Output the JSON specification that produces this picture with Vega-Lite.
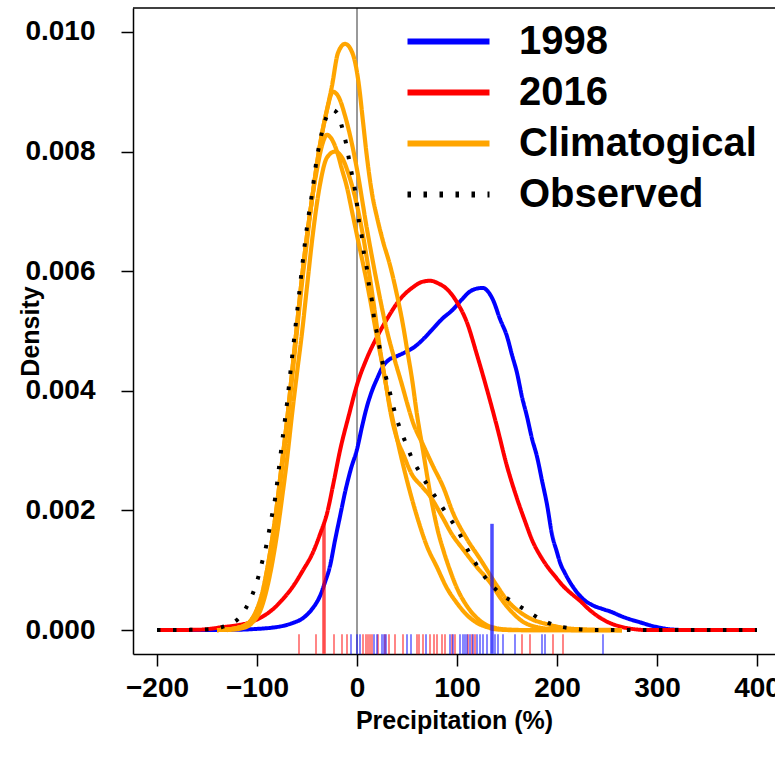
{
  "$schema": "https://vega.github.io/schema/vega-lite/v6.json",
  "autosize": {"type": "none"},
  "width": 642,
  "height": 646,
  "padding": {"left": 133, "top": 8, "right": 0, "bottom": 103},
  "background": "white",
  "config": {
    "view": {"stroke": null},
    "font": "Liberation Sans",
    "axis": {
      "labelFont": "Liberation Sans", "labelFontWeight": "bold", "labelFontSize": 28, "labelColor": "black",
      "titleFont": "Liberation Sans", "titleFontWeight": "bold", "titleFontSize": 25, "titleColor": "black",
      "tickColor": "black", "tickWidth": 1.5, "tickSize": 12,
      "domainColor": "black", "domainWidth": 1.5, "grid": false, "labelFlush": false
    },
    "legend": {
      "symbolType": "M-2,0H2", "symbolSize": 1681, "symbolStrokeWidth": 6,
      "labelFont": "Liberation Sans", "labelFontSize": 40, "labelFontWeight": "bold", "labelColor": "black",
      "labelOffset": 47, "rowPadding": 7, "labelLimit": 500
    }
  },
  "datasets": {
    "curves": [
      {"s":"1998","c":"1998","x":-200,"d":0},{"s":"1998","c":"1998","x":-150,"d":0},{"s":"1998","c":"1998","x":-120,"d":0.000005},{"s":"1998","c":"1998","x":-100,"d":0.00002},{"s":"1998","c":"1998","x":-85,"d":0.00004},{"s":"1998","c":"1998","x":-74,"d":0.00007},{"s":"1998","c":"1998","x":-64,"d":0.00012},{"s":"1998","c":"1998","x":-54,"d":0.0002},{"s":"1998","c":"1998","x":-45,"d":0.00035},{"s":"1998","c":"1998","x":-37,"d":0.00057},{"s":"1998","c":"1998","x":-32,"d":0.0008},{"s":"1998","c":"1998","x":-27,"d":0.00107},{"s":"1998","c":"1998","x":-22,"d":0.0015},{"s":"1998","c":"1998","x":-17,"d":0.0019},{"s":"1998","c":"1998","x":-12,"d":0.0023},{"s":"1998","c":"1998","x":-6,"d":0.0027},{"s":"1998","c":"1998","x":0,"d":0.00302},{"s":"1998","c":"1998","x":5,"d":0.0034},{"s":"1998","c":"1998","x":10,"d":0.00374},{"s":"1998","c":"1998","x":15,"d":0.004},{"s":"1998","c":"1998","x":20,"d":0.0042},{"s":"1998","c":"1998","x":26,"d":0.00441},{"s":"1998","c":"1998","x":32,"d":0.00452},{"s":"1998","c":"1998","x":40,"d":0.00458},{"s":"1998","c":"1998","x":50,"d":0.00466},{"s":"1998","c":"1998","x":58,"d":0.00474},{"s":"1998","c":"1998","x":66,"d":0.00486},{"s":"1998","c":"1998","x":75,"d":0.00502},{"s":"1998","c":"1998","x":85,"d":0.0052},{"s":"1998","c":"1998","x":96,"d":0.00536},{"s":"1998","c":"1998","x":105,"d":0.00553},{"s":"1998","c":"1998","x":113,"d":0.00566},{"s":"1998","c":"1998","x":120,"d":0.00571},{"s":"1998","c":"1998","x":126,"d":0.00572},{"s":"1998","c":"1998","x":131,"d":0.00566},{"s":"1998","c":"1998","x":136,"d":0.00552},{"s":"1998","c":"1998","x":143,"d":0.0052},{"s":"1998","c":"1998","x":150,"d":0.00491},{"s":"1998","c":"1998","x":155,"d":0.0046},{"s":"1998","c":"1998","x":160,"d":0.0043},{"s":"1998","c":"1998","x":165,"d":0.0039},{"s":"1998","c":"1998","x":170,"d":0.00357},{"s":"1998","c":"1998","x":175,"d":0.0032},{"s":"1998","c":"1998","x":180,"d":0.0029},{"s":"1998","c":"1998","x":185,"d":0.0025},{"s":"1998","c":"1998","x":190,"d":0.0021},{"s":"1998","c":"1998","x":195,"d":0.0016},{"s":"1998","c":"1998","x":200,"d":0.0013},{"s":"1998","c":"1998","x":203,"d":0.00113},{"s":"1998","c":"1998","x":208,"d":0.00095},{"s":"1998","c":"1998","x":213,"d":0.0008},{"s":"1998","c":"1998","x":220,"d":0.00063},{"s":"1998","c":"1998","x":226,"d":0.00052},{"s":"1998","c":"1998","x":235,"d":0.00042},{"s":"1998","c":"1998","x":246,"d":0.00035},{"s":"1998","c":"1998","x":255,"d":0.0003},{"s":"1998","c":"1998","x":263,"d":0.00024},{"s":"1998","c":"1998","x":273,"d":0.00018},{"s":"1998","c":"1998","x":283,"d":0.00013},{"s":"1998","c":"1998","x":293,"d":0.00008},{"s":"1998","c":"1998","x":303,"d":0.00004},{"s":"1998","c":"1998","x":315,"d":0.00001},{"s":"1998","c":"1998","x":330,"d":0},{"s":"1998","c":"1998","x":400,"d":0},

      {"s":"2016","c":"2016","x":-200,"d":0},{"s":"2016","c":"2016","x":-160,"d":0.000005},{"s":"2016","c":"2016","x":-134,"d":0.00005},{"s":"2016","c":"2016","x":-120,"d":0.00008},{"s":"2016","c":"2016","x":-107,"d":0.00013},{"s":"2016","c":"2016","x":-95,"d":0.00022},{"s":"2016","c":"2016","x":-84,"d":0.00035},{"s":"2016","c":"2016","x":-74,"d":0.00052},{"s":"2016","c":"2016","x":-64,"d":0.00073},{"s":"2016","c":"2016","x":-54,"d":0.001},{"s":"2016","c":"2016","x":-44,"d":0.0013},{"s":"2016","c":"2016","x":-37,"d":0.0016},{"s":"2016","c":"2016","x":-30,"d":0.00195},{"s":"2016","c":"2016","x":-23,"d":0.0025},{"s":"2016","c":"2016","x":-17,"d":0.003},{"s":"2016","c":"2016","x":-8,"d":0.0036},{"s":"2016","c":"2016","x":0,"d":0.0041},{"s":"2016","c":"2016","x":10,"d":0.00455},{"s":"2016","c":"2016","x":20,"d":0.0049},{"s":"2016","c":"2016","x":30,"d":0.0052},{"s":"2016","c":"2016","x":43,"d":0.00553},{"s":"2016","c":"2016","x":55,"d":0.00572},{"s":"2016","c":"2016","x":65,"d":0.00582},{"s":"2016","c":"2016","x":73,"d":0.00584},{"s":"2016","c":"2016","x":82,"d":0.00579},{"s":"2016","c":"2016","x":90,"d":0.0057},{"s":"2016","c":"2016","x":100,"d":0.00548},{"s":"2016","c":"2016","x":110,"d":0.00514},{"s":"2016","c":"2016","x":120,"d":0.0046},{"s":"2016","c":"2016","x":130,"d":0.00402},{"s":"2016","c":"2016","x":140,"d":0.0034},{"s":"2016","c":"2016","x":150,"d":0.00274},{"s":"2016","c":"2016","x":160,"d":0.0022},{"s":"2016","c":"2016","x":168,"d":0.00182},{"s":"2016","c":"2016","x":176,"d":0.00147},{"s":"2016","c":"2016","x":183,"d":0.00125},{"s":"2016","c":"2016","x":190,"d":0.00107},{"s":"2016","c":"2016","x":198,"d":0.0009},{"s":"2016","c":"2016","x":206,"d":0.00074},{"s":"2016","c":"2016","x":215,"d":0.0006},{"s":"2016","c":"2016","x":223,"d":0.00049},{"s":"2016","c":"2016","x":231,"d":0.00036},{"s":"2016","c":"2016","x":240,"d":0.00024},{"s":"2016","c":"2016","x":250,"d":0.00014},{"s":"2016","c":"2016","x":263,"d":0.00006},{"s":"2016","c":"2016","x":275,"d":0.00002},{"s":"2016","c":"2016","x":290,"d":0},{"s":"2016","c":"2016","x":400,"d":0},

      {"s":"Climatogical","c":"A","x":-140,"d":0},{"s":"Climatogical","c":"A","x":-125,"d":0.00002},{"s":"Climatogical","c":"A","x":-110,"d":0.0001},{"s":"Climatogical","c":"A","x":-100,"d":0.00035},{"s":"Climatogical","c":"A","x":-95,"d":0.0006},{"s":"Climatogical","c":"A","x":-90,"d":0.001},{"s":"Climatogical","c":"A","x":-85,"d":0.0015},{"s":"Climatogical","c":"A","x":-80,"d":0.0021},{"s":"Climatogical","c":"A","x":-75,"d":0.0028},{"s":"Climatogical","c":"A","x":-70,"d":0.0035},{"s":"Climatogical","c":"A","x":-65,"d":0.0043},{"s":"Climatogical","c":"A","x":-60,"d":0.0051},{"s":"Climatogical","c":"A","x":-55,"d":0.0059},{"s":"Climatogical","c":"A","x":-50,"d":0.0066},{"s":"Climatogical","c":"A","x":-45,"d":0.0072},{"s":"Climatogical","c":"A","x":-40,"d":0.0078},{"s":"Climatogical","c":"A","x":-35,"d":0.0083},{"s":"Climatogical","c":"A","x":-30,"d":0.0087},{"s":"Climatogical","c":"A","x":-25,"d":0.0091},{"s":"Climatogical","c":"A","x":-19,"d":0.00965},{"s":"Climatogical","c":"A","x":-12,"d":0.0098},{"s":"Climatogical","c":"A","x":-6,"d":0.0097},{"s":"Climatogical","c":"A","x":-2,"d":0.0095},{"s":"Climatogical","c":"A","x":2,"d":0.0091},{"s":"Climatogical","c":"A","x":6,"d":0.0085},{"s":"Climatogical","c":"A","x":10,"d":0.0079},{"s":"Climatogical","c":"A","x":15,"d":0.0073},{"s":"Climatogical","c":"A","x":20,"d":0.0069},{"s":"Climatogical","c":"A","x":26,"d":0.0065},{"s":"Climatogical","c":"A","x":33,"d":0.0061},{"s":"Climatogical","c":"A","x":40,"d":0.0056},{"s":"Climatogical","c":"A","x":46,"d":0.0051},{"s":"Climatogical","c":"A","x":50,"d":0.0047},{"s":"Climatogical","c":"A","x":55,"d":0.0042},{"s":"Climatogical","c":"A","x":60,"d":0.0036},{"s":"Climatogical","c":"A","x":66,"d":0.003},{"s":"Climatogical","c":"A","x":73,"d":0.0023},{"s":"Climatogical","c":"A","x":81,"d":0.00165},{"s":"Climatogical","c":"A","x":87,"d":0.0013},{"s":"Climatogical","c":"A","x":93,"d":0.001},{"s":"Climatogical","c":"A","x":100,"d":0.0007},{"s":"Climatogical","c":"A","x":110,"d":0.0004},{"s":"Climatogical","c":"A","x":120,"d":0.0002},{"s":"Climatogical","c":"A","x":133,"d":0.00006},{"s":"Climatogical","c":"A","x":150,"d":0.00001},{"s":"Climatogical","c":"A","x":170,"d":0},{"s":"Climatogical","c":"A","x":265,"d":0},

      {"s":"Climatogical","c":"B","x":-140,"d":0},{"s":"Climatogical","c":"B","x":-125,"d":0.00002},{"s":"Climatogical","c":"B","x":-110,"d":0.0001},{"s":"Climatogical","c":"B","x":-100,"d":0.00035},{"s":"Climatogical","c":"B","x":-95,"d":0.0006},{"s":"Climatogical","c":"B","x":-90,"d":0.001},{"s":"Climatogical","c":"B","x":-85,"d":0.0015},{"s":"Climatogical","c":"B","x":-80,"d":0.0021},{"s":"Climatogical","c":"B","x":-75,"d":0.0028},{"s":"Climatogical","c":"B","x":-70,"d":0.0035},{"s":"Climatogical","c":"B","x":-65,"d":0.0043},{"s":"Climatogical","c":"B","x":-60,"d":0.0051},{"s":"Climatogical","c":"B","x":-55,"d":0.0059},{"s":"Climatogical","c":"B","x":-50,"d":0.0066},{"s":"Climatogical","c":"B","x":-45,"d":0.0072},{"s":"Climatogical","c":"B","x":-40,"d":0.0078},{"s":"Climatogical","c":"B","x":-35,"d":0.0083},{"s":"Climatogical","c":"B","x":-30,"d":0.0087},{"s":"Climatogical","c":"B","x":-24,"d":0.009},{"s":"Climatogical","c":"B","x":-18,"d":0.0089},{"s":"Climatogical","c":"B","x":-12,"d":0.0086},{"s":"Climatogical","c":"B","x":-6,"d":0.0082},{"s":"Climatogical","c":"B","x":0,"d":0.0077},{"s":"Climatogical","c":"B","x":10,"d":0.0067},{"s":"Climatogical","c":"B","x":20,"d":0.0058},{"s":"Climatogical","c":"B","x":30,"d":0.005},{"s":"Climatogical","c":"B","x":38,"d":0.0045},{"s":"Climatogical","c":"B","x":45,"d":0.0041},{"s":"Climatogical","c":"B","x":50,"d":0.0038},{"s":"Climatogical","c":"B","x":56,"d":0.00347},{"s":"Climatogical","c":"B","x":66,"d":0.0031},{"s":"Climatogical","c":"B","x":76,"d":0.00274},{"s":"Climatogical","c":"B","x":86,"d":0.0024},{"s":"Climatogical","c":"B","x":96,"d":0.00196},{"s":"Climatogical","c":"B","x":110,"d":0.00152},{"s":"Climatogical","c":"B","x":123,"d":0.00119},{"s":"Climatogical","c":"B","x":140,"d":0.00074},{"s":"Climatogical","c":"B","x":150,"d":0.0005},{"s":"Climatogical","c":"B","x":163,"d":0.0003},{"s":"Climatogical","c":"B","x":175,"d":0.00018},{"s":"Climatogical","c":"B","x":190,"d":0.0001},{"s":"Climatogical","c":"B","x":210,"d":0.00003},{"s":"Climatogical","c":"B","x":230,"d":0.00001},{"s":"Climatogical","c":"B","x":265,"d":0},

      {"s":"Climatogical","c":"C","x":-140,"d":0},{"s":"Climatogical","c":"C","x":-125,"d":0.00002},{"s":"Climatogical","c":"C","x":-110,"d":0.0001},{"s":"Climatogical","c":"C","x":-100,"d":0.0003},{"s":"Climatogical","c":"C","x":-95,"d":0.00055},{"s":"Climatogical","c":"C","x":-90,"d":0.0009},{"s":"Climatogical","c":"C","x":-85,"d":0.0014},{"s":"Climatogical","c":"C","x":-80,"d":0.002},{"s":"Climatogical","c":"C","x":-75,"d":0.0027},{"s":"Climatogical","c":"C","x":-70,"d":0.0034},{"s":"Climatogical","c":"C","x":-65,"d":0.0042},{"s":"Climatogical","c":"C","x":-60,"d":0.005},{"s":"Climatogical","c":"C","x":-55,"d":0.0058},{"s":"Climatogical","c":"C","x":-50,"d":0.0065},{"s":"Climatogical","c":"C","x":-45,"d":0.0072},{"s":"Climatogical","c":"C","x":-40,"d":0.0077},{"s":"Climatogical","c":"C","x":-35,"d":0.0081},{"s":"Climatogical","c":"C","x":-30,"d":0.00828},{"s":"Climatogical","c":"C","x":-25,"d":0.0082},{"s":"Climatogical","c":"C","x":-20,"d":0.008},{"s":"Climatogical","c":"C","x":-15,"d":0.0077},{"s":"Climatogical","c":"C","x":-10,"d":0.0074},{"s":"Climatogical","c":"C","x":-5,"d":0.007},{"s":"Climatogical","c":"C","x":0,"d":0.0066},{"s":"Climatogical","c":"C","x":10,"d":0.0058},{"s":"Climatogical","c":"C","x":20,"d":0.0049},{"s":"Climatogical","c":"C","x":28,"d":0.0042},{"s":"Climatogical","c":"C","x":34,"d":0.0036},{"s":"Climatogical","c":"C","x":40,"d":0.0032},{"s":"Climatogical","c":"C","x":46,"d":0.00295},{"s":"Climatogical","c":"C","x":55,"d":0.0026},{"s":"Climatogical","c":"C","x":65,"d":0.0024},{"s":"Climatogical","c":"C","x":73,"d":0.00224},{"s":"Climatogical","c":"C","x":85,"d":0.0019},{"s":"Climatogical","c":"C","x":95,"d":0.0016},{"s":"Climatogical","c":"C","x":106,"d":0.00135},{"s":"Climatogical","c":"C","x":120,"d":0.00105},{"s":"Climatogical","c":"C","x":133,"d":0.0008},{"s":"Climatogical","c":"C","x":145,"d":0.0005},{"s":"Climatogical","c":"C","x":155,"d":0.0003},{"s":"Climatogical","c":"C","x":165,"d":0.00015},{"s":"Climatogical","c":"C","x":180,"d":0.00005},{"s":"Climatogical","c":"C","x":200,"d":0.00001},{"s":"Climatogical","c":"C","x":220,"d":0},{"s":"Climatogical","c":"C","x":265,"d":0},

      {"s":"Climatogical","c":"D","x":-130,"d":0},{"s":"Climatogical","c":"D","x":-115,"d":0.00003},{"s":"Climatogical","c":"D","x":-105,"d":0.00012},{"s":"Climatogical","c":"D","x":-95,"d":0.0004},{"s":"Climatogical","c":"D","x":-90,"d":0.0007},{"s":"Climatogical","c":"D","x":-85,"d":0.0011},{"s":"Climatogical","c":"D","x":-80,"d":0.0016},{"s":"Climatogical","c":"D","x":-75,"d":0.0022},{"s":"Climatogical","c":"D","x":-70,"d":0.00285},{"s":"Climatogical","c":"D","x":-65,"d":0.0036},{"s":"Climatogical","c":"D","x":-60,"d":0.0043},{"s":"Climatogical","c":"D","x":-55,"d":0.00497},{"s":"Climatogical","c":"D","x":-50,"d":0.00574},{"s":"Climatogical","c":"D","x":-44,"d":0.00664},{"s":"Climatogical","c":"D","x":-37,"d":0.00745},{"s":"Climatogical","c":"D","x":-30,"d":0.0079},{"s":"Climatogical","c":"D","x":-22,"d":0.008},{"s":"Climatogical","c":"D","x":-15,"d":0.0079},{"s":"Climatogical","c":"D","x":-8,"d":0.0076},{"s":"Climatogical","c":"D","x":0,"d":0.0071},{"s":"Climatogical","c":"D","x":10,"d":0.0062},{"s":"Climatogical","c":"D","x":18,"d":0.0053},{"s":"Climatogical","c":"D","x":23,"d":0.0047},{"s":"Climatogical","c":"D","x":30,"d":0.004},{"s":"Climatogical","c":"D","x":40,"d":0.0032},{"s":"Climatogical","c":"D","x":50,"d":0.0025},{"s":"Climatogical","c":"D","x":60,"d":0.0019},{"s":"Climatogical","c":"D","x":70,"d":0.0014},{"s":"Climatogical","c":"D","x":80,"d":0.00105},{"s":"Climatogical","c":"D","x":90,"d":0.0007},{"s":"Climatogical","c":"D","x":100,"d":0.00045},{"s":"Climatogical","c":"D","x":110,"d":0.00025},{"s":"Climatogical","c":"D","x":120,"d":0.00012},{"s":"Climatogical","c":"D","x":130,"d":0.00005},{"s":"Climatogical","c":"D","x":140,"d":0.00001},{"s":"Climatogical","c":"D","x":155,"d":0},{"s":"Climatogical","c":"D","x":265,"d":0},

      {"s":"Observed","c":"Obs","x":-200,"d":0},{"s":"Observed","c":"Obs","x":-160,"d":0.000005},{"s":"Observed","c":"Obs","x":-145,"d":0.00002},{"s":"Observed","c":"Obs","x":-135,"d":0.00005},{"s":"Observed","c":"Obs","x":-127,"d":0.0001},{"s":"Observed","c":"Obs","x":-120,"d":0.00017},{"s":"Observed","c":"Obs","x":-115,"d":0.00026},{"s":"Observed","c":"Obs","x":-111,"d":0.00037},{"s":"Observed","c":"Obs","x":-107,"d":0.0005},{"s":"Observed","c":"Obs","x":-104,"d":0.00062},{"s":"Observed","c":"Obs","x":-99,"d":0.00087},{"s":"Observed","c":"Obs","x":-95,"d":0.00113},{"s":"Observed","c":"Obs","x":-91,"d":0.00139},{"s":"Observed","c":"Obs","x":-88,"d":0.00165},{"s":"Observed","c":"Obs","x":-85,"d":0.00192},{"s":"Observed","c":"Obs","x":-82,"d":0.00219},{"s":"Observed","c":"Obs","x":-78,"d":0.00272},{"s":"Observed","c":"Obs","x":-74,"d":0.00326},{"s":"Observed","c":"Obs","x":-70,"d":0.00379},{"s":"Observed","c":"Obs","x":-66,"d":0.0044},{"s":"Observed","c":"Obs","x":-62,"d":0.005},{"s":"Observed","c":"Obs","x":-58,"d":0.0056},{"s":"Observed","c":"Obs","x":-54,"d":0.0062},{"s":"Observed","c":"Obs","x":-50,"d":0.00674},{"s":"Observed","c":"Obs","x":-45,"d":0.0073},{"s":"Observed","c":"Obs","x":-40,"d":0.0079},{"s":"Observed","c":"Obs","x":-35,"d":0.00833},{"s":"Observed","c":"Obs","x":-30,"d":0.0086},{"s":"Observed","c":"Obs","x":-25,"d":0.0087},{"s":"Observed","c":"Obs","x":-20,"d":0.00865},{"s":"Observed","c":"Obs","x":-15,"d":0.00841},{"s":"Observed","c":"Obs","x":-11,"d":0.00814},{"s":"Observed","c":"Obs","x":-8,"d":0.00787},{"s":"Observed","c":"Obs","x":-5,"d":0.00761},{"s":"Observed","c":"Obs","x":-2,"d":0.00735},{"s":"Observed","c":"Obs","x":0,"d":0.00712},{"s":"Observed","c":"Obs","x":2,"d":0.00682},{"s":"Observed","c":"Obs","x":5,"d":0.00656},{"s":"Observed","c":"Obs","x":7,"d":0.00629},{"s":"Observed","c":"Obs","x":10,"d":0.00603},{"s":"Observed","c":"Obs","x":12,"d":0.00576},{"s":"Observed","c":"Obs","x":15,"d":0.0055},{"s":"Observed","c":"Obs","x":17,"d":0.00522},{"s":"Observed","c":"Obs","x":20,"d":0.00496},{"s":"Observed","c":"Obs","x":23,"d":0.00469},{"s":"Observed","c":"Obs","x":26,"d":0.00443},{"s":"Observed","c":"Obs","x":30,"d":0.00416},{"s":"Observed","c":"Obs","x":34,"d":0.0039},{"s":"Observed","c":"Obs","x":38,"d":0.00363},{"s":"Observed","c":"Obs","x":43,"d":0.00337},{"s":"Observed","c":"Obs","x":49,"d":0.00312},{"s":"Observed","c":"Obs","x":55,"d":0.00287},{"s":"Observed","c":"Obs","x":63,"d":0.00263},{"s":"Observed","c":"Obs","x":71,"d":0.00241},{"s":"Observed","c":"Obs","x":80,"d":0.00219},{"s":"Observed","c":"Obs","x":89,"d":0.00196},{"s":"Observed","c":"Obs","x":98,"d":0.00174},{"s":"Observed","c":"Obs","x":106,"d":0.0015},{"s":"Observed","c":"Obs","x":113,"d":0.00127},{"s":"Observed","c":"Obs","x":122,"d":0.00103},{"s":"Observed","c":"Obs","x":131,"d":0.00082},{"s":"Observed","c":"Obs","x":142,"d":0.00063},{"s":"Observed","c":"Obs","x":156,"d":0.00047},{"s":"Observed","c":"Obs","x":170,"d":0.00032},{"s":"Observed","c":"Obs","x":184,"d":0.00018},{"s":"Observed","c":"Obs","x":198,"d":0.00008},{"s":"Observed","c":"Obs","x":214,"d":0.00003},{"s":"Observed","c":"Obs","x":230,"d":0.000005},{"s":"Observed","c":"Obs","x":250,"d":0},{"s":"Observed","c":"Obs","x":400,"d":0}
    ],
    "rug": [
      {"s":"2016","x":-58},{"s":"2016","x":-41},{"s":"2016","x":-23},{"s":"2016","x":-15},{"s":"2016","x":-10},{"s":"2016","x":6},{"s":"2016","x":9},{"s":"2016","x":11},{"s":"2016","x":13},{"s":"2016","x":15},{"s":"2016","x":21},{"s":"2016","x":28},{"s":"2016","x":32},{"s":"2016","x":38},{"s":"2016","x":46},{"s":"2016","x":60},{"s":"2016","x":62},{"s":"2016","x":66},{"s":"2016","x":73},{"s":"2016","x":77},{"s":"2016","x":80},{"s":"2016","x":85},{"s":"2016","x":88},{"s":"2016","x":95},{"s":"2016","x":98},{"s":"2016","x":111},{"s":"2016","x":115},{"s":"2016","x":118},{"s":"2016","x":165},{"s":"2016","x":173},{"s":"2016","x":196},{"s":"2016","x":206},
      {"s":"1998","x":-6},{"s":"1998","x":0},{"s":"1998","x":3},{"s":"1998","x":17},{"s":"1998","x":20},{"s":"1998","x":25},{"s":"1998","x":27},{"s":"1998","x":29},{"s":"1998","x":50},{"s":"1998","x":54},{"s":"1998","x":69},{"s":"1998","x":93},{"s":"1998","x":96},{"s":"1998","x":103},{"s":"1998","x":106},{"s":"1998","x":108},{"s":"1998","x":110},{"s":"1998","x":113},{"s":"1998","x":116},{"s":"1998","x":120},{"s":"1998","x":123},{"s":"1998","x":126},{"s":"1998","x":130},{"s":"1998","x":138},{"s":"1998","x":141},{"s":"1998","x":146},{"s":"1998","x":158},{"s":"1998","x":185},{"s":"1998","x":188},{"s":"1998","x":246}
    ],
    "obs": [
      {"s":"2016","x":-33},
      {"s":"1998","x":135}
    ],
    "ref": [{"x": 0}]
  },
  "layer": [
    {
      "data": {"name": "ref"},
      "mark": {"type": "rule", "color": "#555555", "strokeWidth": 1.2},
      "encoding": {
        "x": {"field": "x", "type": "quantitative", "scale": {"domain": [-224, 418], "nice": false, "zero": false},
          "axis": {"values": [-200, -100, 0, 100, 200, 300, 400], "title": "Precipitation (%)", "labelPadding": 8, "titlePadding": 6}}
      }
    },
    {
      "data": {"name": "curves"},
      "transform": [{"filter": "datum.s === '1998'"}],
      "mark": {"type": "line", "strokeWidth": 4, "strokeJoin": "round", "interpolate": "monotone", "clip": true},
      "encoding": {
        "x": {"field": "x", "type": "quantitative"},
        "y": {"field": "d", "type": "quantitative", "scale": {"domain": [-0.0004, 0.0104], "nice": false, "zero": false},
          "axis": {"values": [0, 0.002, 0.004, 0.006, 0.008, 0.01], "format": ".3f", "title": "Density", "labelPadding": 26,
            "titleX": -103, "titleY": 323, "titleBaseline": "middle", "titleAlign": "center", "titleAngle": -90}},
        "detail": {"field": "c", "type": "nominal"},
        "color": {"field": "s", "type": "nominal", "scale": {"domain": ["1998", "2016", "Climatogical", "Observed"], "range": ["#0000FF", "#FF0000", "#FFA500", "#000000"]},
          "legend": {"title": null, "orient": "none", "legendX": 292, "legendY": 10}},
        "strokeDash": {"field": "s", "type": "nominal", "scale": {"domain": ["1998", "2016", "Climatogical", "Observed"], "range": [[1, 0], [1, 0], [1, 0], [3.5, 12.5]]},
          "legend": {"title": null, "orient": "none", "legendX": 292, "legendY": 10}}
      }
    },
    {
      "data": {"name": "curves"},
      "transform": [{"filter": "datum.s === '2016'"}],
      "mark": {"type": "line", "strokeWidth": 4, "strokeJoin": "round", "interpolate": "monotone", "clip": true},
      "encoding": {
        "x": {"field": "x", "type": "quantitative"},
        "y": {"field": "d", "type": "quantitative"},
        "detail": {"field": "c", "type": "nominal"},
        "color": {"field": "s", "type": "nominal"},
        "strokeDash": {"field": "s", "type": "nominal"}
      }
    },
    {
      "data": {"name": "curves"},
      "transform": [{"filter": "datum.s === 'Climatogical'"}],
      "mark": {"type": "line", "strokeWidth": 4.2, "strokeJoin": "round", "interpolate": "monotone", "clip": true},
      "encoding": {
        "x": {"field": "x", "type": "quantitative"},
        "y": {"field": "d", "type": "quantitative"},
        "detail": {"field": "c", "type": "nominal"},
        "color": {"field": "s", "type": "nominal"},
        "strokeDash": {"field": "s", "type": "nominal"}
      }
    },
    {
      "data": {"name": "curves"},
      "transform": [{"filter": "datum.s === 'Observed'"}],
      "mark": {"type": "line", "strokeWidth": 4, "interpolate": "monotone", "clip": true},
      "encoding": {
        "x": {"field": "x", "type": "quantitative"},
        "y": {"field": "d", "type": "quantitative"},
        "detail": {"field": "c", "type": "nominal"},
        "color": {"field": "s", "type": "nominal"},
        "strokeDash": {"field": "s", "type": "nominal"}
      }
    },
    {
      "data": {"name": "rug"},
      "transform": [{"filter": "datum.s === '2016'"}],
      "mark": {"type": "tick", "orient": "vertical", "color": "#FF0000", "opacity": 0.6, "thickness": 1.6, "size": 20},
      "encoding": {
        "x": {"field": "x", "type": "quantitative"},
        "y": {"datum": -0.000235, "type": "quantitative"}
      }
    },
    {
      "data": {"name": "rug"},
      "transform": [{"filter": "datum.s === '1998'"}],
      "mark": {"type": "tick", "orient": "vertical", "color": "#0000FF", "opacity": 0.6, "thickness": 1.6, "size": 20},
      "encoding": {
        "x": {"field": "x", "type": "quantitative"},
        "y": {"datum": -0.000235, "type": "quantitative"}
      }
    },
    {
      "data": {"name": "obs"},
      "transform": [{"filter": "datum.s === '2016'"}],
      "mark": {"type": "tick", "orient": "vertical", "color": "#FF0000", "thickness": 3.5, "size": 130},
      "encoding": {
        "x": {"field": "x", "type": "quantitative"},
        "y": {"datum": 0.00069, "type": "quantitative"}
      }
    },
    {
      "data": {"name": "obs"},
      "transform": [{"filter": "datum.s === '1998'"}],
      "mark": {"type": "tick", "orient": "vertical", "color": "#0000FF", "thickness": 3.5, "size": 130},
      "encoding": {
        "x": {"field": "x", "type": "quantitative"},
        "y": {"datum": 0.00069, "type": "quantitative"}
      }
    },
    {
      "data": {"name": "ref"},
      "mark": {"type": "rule", "color": "black", "strokeWidth": 1.5},
      "encoding": {
        "y": {"datum": 0.0104, "type": "quantitative"}
      }
    }
  ]
}
